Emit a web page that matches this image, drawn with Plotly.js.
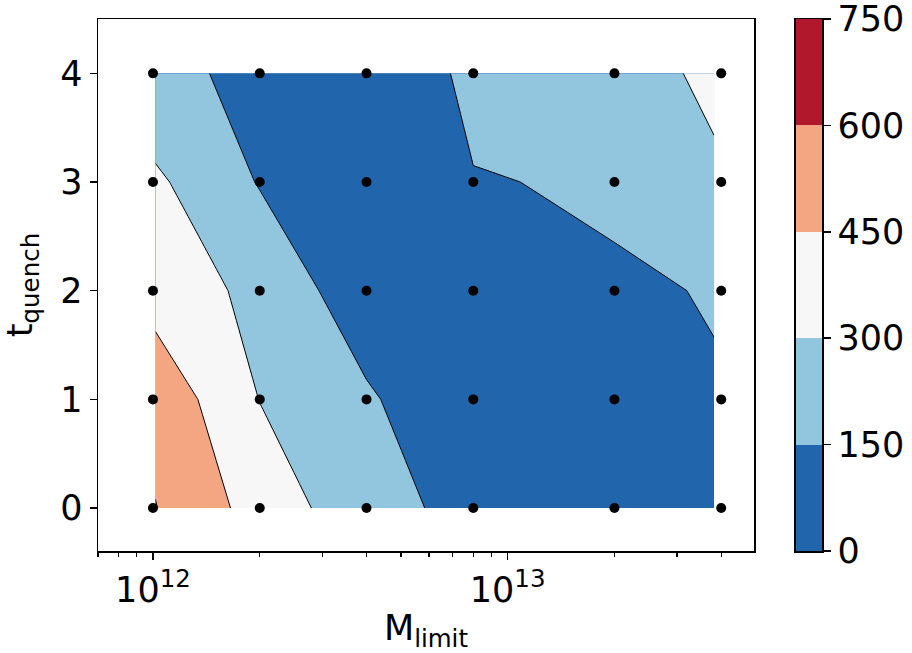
<!DOCTYPE html>
<html>
<head>
<meta charset="utf-8">
<script src="https://cdn.plot.ly/plotly-3.0.1.min.js"></script>
<style>
  html, body { margin: 0; padding: 0; background: #fff; }
  #chart { width: 912px; height: 653px; }
</style>
</head>
<body>
<div id="chart"></div>
<script>
// Sampled runs: halo mass limit (x) and quench time (y)
const massLimit = [1e12, 2e12, 4e12, 8e12, 2e13, 4e13];
const tQuench = [0, 1, 2, 3, 4];

// Mass grid the filled contours are drawn on (end points slightly inset)
const massGrid = [1.016e12, 2e12, 4e12, 8e12, 2e13, 3.82e13];

// Contoured quantity, one row per t_quench value, one column per mass
const zValues = [
  [604, 390, 204, 105, 60, 50],
  [555, 297, 170, 20, 80, 146],
  [387, 262, 60, 142, 142, 153],
  [325, 141, 40, 145, 160, 270],
  [179, 123, 47, 178, 211, 340]
];

// Contour levels and the colour of each band between them
const levels = [0, 150, 300, 450, 600, 750];
const bandColors = ['#2166ac', '#92c5de', '#f7f7f7', '#f4a582', '#b2182b'];

// Axis ticks
const xTickVals = [1e12, 1e13];
const xTickText = ['10<sup>12</sup>', '10<sup>13</sup>'];
const xMinorVals = [7e11, 8e11, 9e11, 2e12, 3e12, 4e12, 5e12, 6e12, 7e12, 8e12, 9e12, 2e13, 3e13, 4e13];
const yTickVals = [0, 1, 2, 3, 4];

// Contour fill colour i is sampled at (i+1)/(nBands+1) of the colour scale
const nBands = bandColors.length;
const contourScale = [[0, bandColors[0]]];
bandColors.forEach((c, i) => contourScale.push([(i + 1) / (nBands + 1), c]));
contourScale.push([1, bandColors[nBands - 1]]);

const step = levels[1] - levels[0];

const contourTrace = {
  type: 'contour',
  x: massGrid,
  y: tQuench,
  z: zValues,
  autocontour: false,
  contours: {
    start: levels[0],
    end: levels[levels.length - 1],
    size: step,
    coloring: 'fill',
    showlines: true
  },
  line: { color: '#000', width: 1, smoothing: 0 },
  colorscale: contourScale,
  showscale: false,
  hoverinfo: 'skip',
  xaxis: 'x',
  yaxis: 'y'
};

// Sample points
const px = [], py = [];
tQuench.forEach(t => massLimit.forEach(m => { px.push(m); py.push(t); }));
const pointTrace = {
  type: 'scatter',
  mode: 'markers',
  x: px,
  y: py,
  marker: { color: '#000', size: 10, line: { width: 0 } },
  hoverinfo: 'skip',
  xaxis: 'x',
  yaxis: 'y'
};

// Colour bar built from the level bands
const cbTrace = {
  type: 'bar',
  x: bandColors.map(() => 0),
  base: levels.slice(0, -1),
  y: levels.slice(1).map((v, i) => v - levels[i]),
  width: bandColors.map(() => 1),
  marker: { color: bandColors, line: { width: 0 } },
  hoverinfo: 'skip',
  xaxis: 'x2',
  yaxis: 'y2'
};

const W = 912, H = 653;
const mL = 98, mR = 90, mT = 19, mB = 102;
const plotW = W - mL - mR;
const mainRight = 754, cbLeft = 795.5;

const axisCommon = {
  showline: true,
  linecolor: '#000',
  linewidth: 1.5,
  showgrid: false,
  zeroline: false,
  ticks: 'outside',
  ticklen: 7,
  tickwidth: 1.5,
  tickcolor: '#000',
  tickfont: { family: 'DejaVu Sans', size: 35, color: '#000' }
};

const layout = {
  width: W,
  height: H,
  margin: { l: mL, r: mR, t: mT, b: mB, pad: 0 },
  paper_bgcolor: '#fff',
  plot_bgcolor: '#fff',
  font: { family: 'DejaVu Sans', size: 35, color: '#000' },
  showlegend: false,
  xaxis: Object.assign({}, axisCommon, {
    type: 'log',
    domain: [0, (mainRight - mL) / plotW],
    range: [11.845, 13.6945],
    tickmode: 'array',
    tickvals: xTickVals,
    ticktext: xTickText,
    minor: {
      tickmode: 'array',
      tickvals: xMinorVals,
      ticks: 'outside',
      ticklen: 4,
      tickwidth: 1.2,
      tickcolor: '#000',
      showgrid: false
    },
    mirror: true,
    anchor: 'y',
    title: { text: 'M<sub>limit</sub>', font: { family: 'DejaVu Sans', size: 35, color: '#000' }, standoff: 8 }
  }),
  yaxis: Object.assign({}, axisCommon, {
    range: [-0.395, 4.5],
    tickmode: 'array',
    tickvals: yTickVals,
    ticktext: yTickVals.map(String),
    mirror: true,
    anchor: 'x',
    title: { text: 't<sub>quench</sub>', font: { family: 'DejaVu Sans', size: 35, color: '#000' }, standoff: 20 }
  }),
  xaxis2: {
    domain: [(cbLeft - mL) / plotW, 1],
    range: [-0.5, 0.5],
    anchor: 'y2',
    showline: true,
    linecolor: '#000',
    linewidth: 1.5,
    mirror: true,
    showgrid: false,
    zeroline: false,
    showticklabels: false,
    ticks: ''
  },
  yaxis2: Object.assign({}, axisCommon, {
    domain: [0, 1],
    range: [levels[0] - 0.2, levels[levels.length - 1] + 0.2],
    anchor: 'x2',
    side: 'right',
    mirror: true,
    tickmode: 'array',
    tickvals: levels,
    ticktext: levels.map(String),
    ticklabeloverflow: 'allow'
  }),
  bargap: 0
};

Plotly.newPlot('chart', [contourTrace, pointTrace, cbTrace], layout, { staticPlot: true, displayModeBar: false });
</script>
</body>
</html>
